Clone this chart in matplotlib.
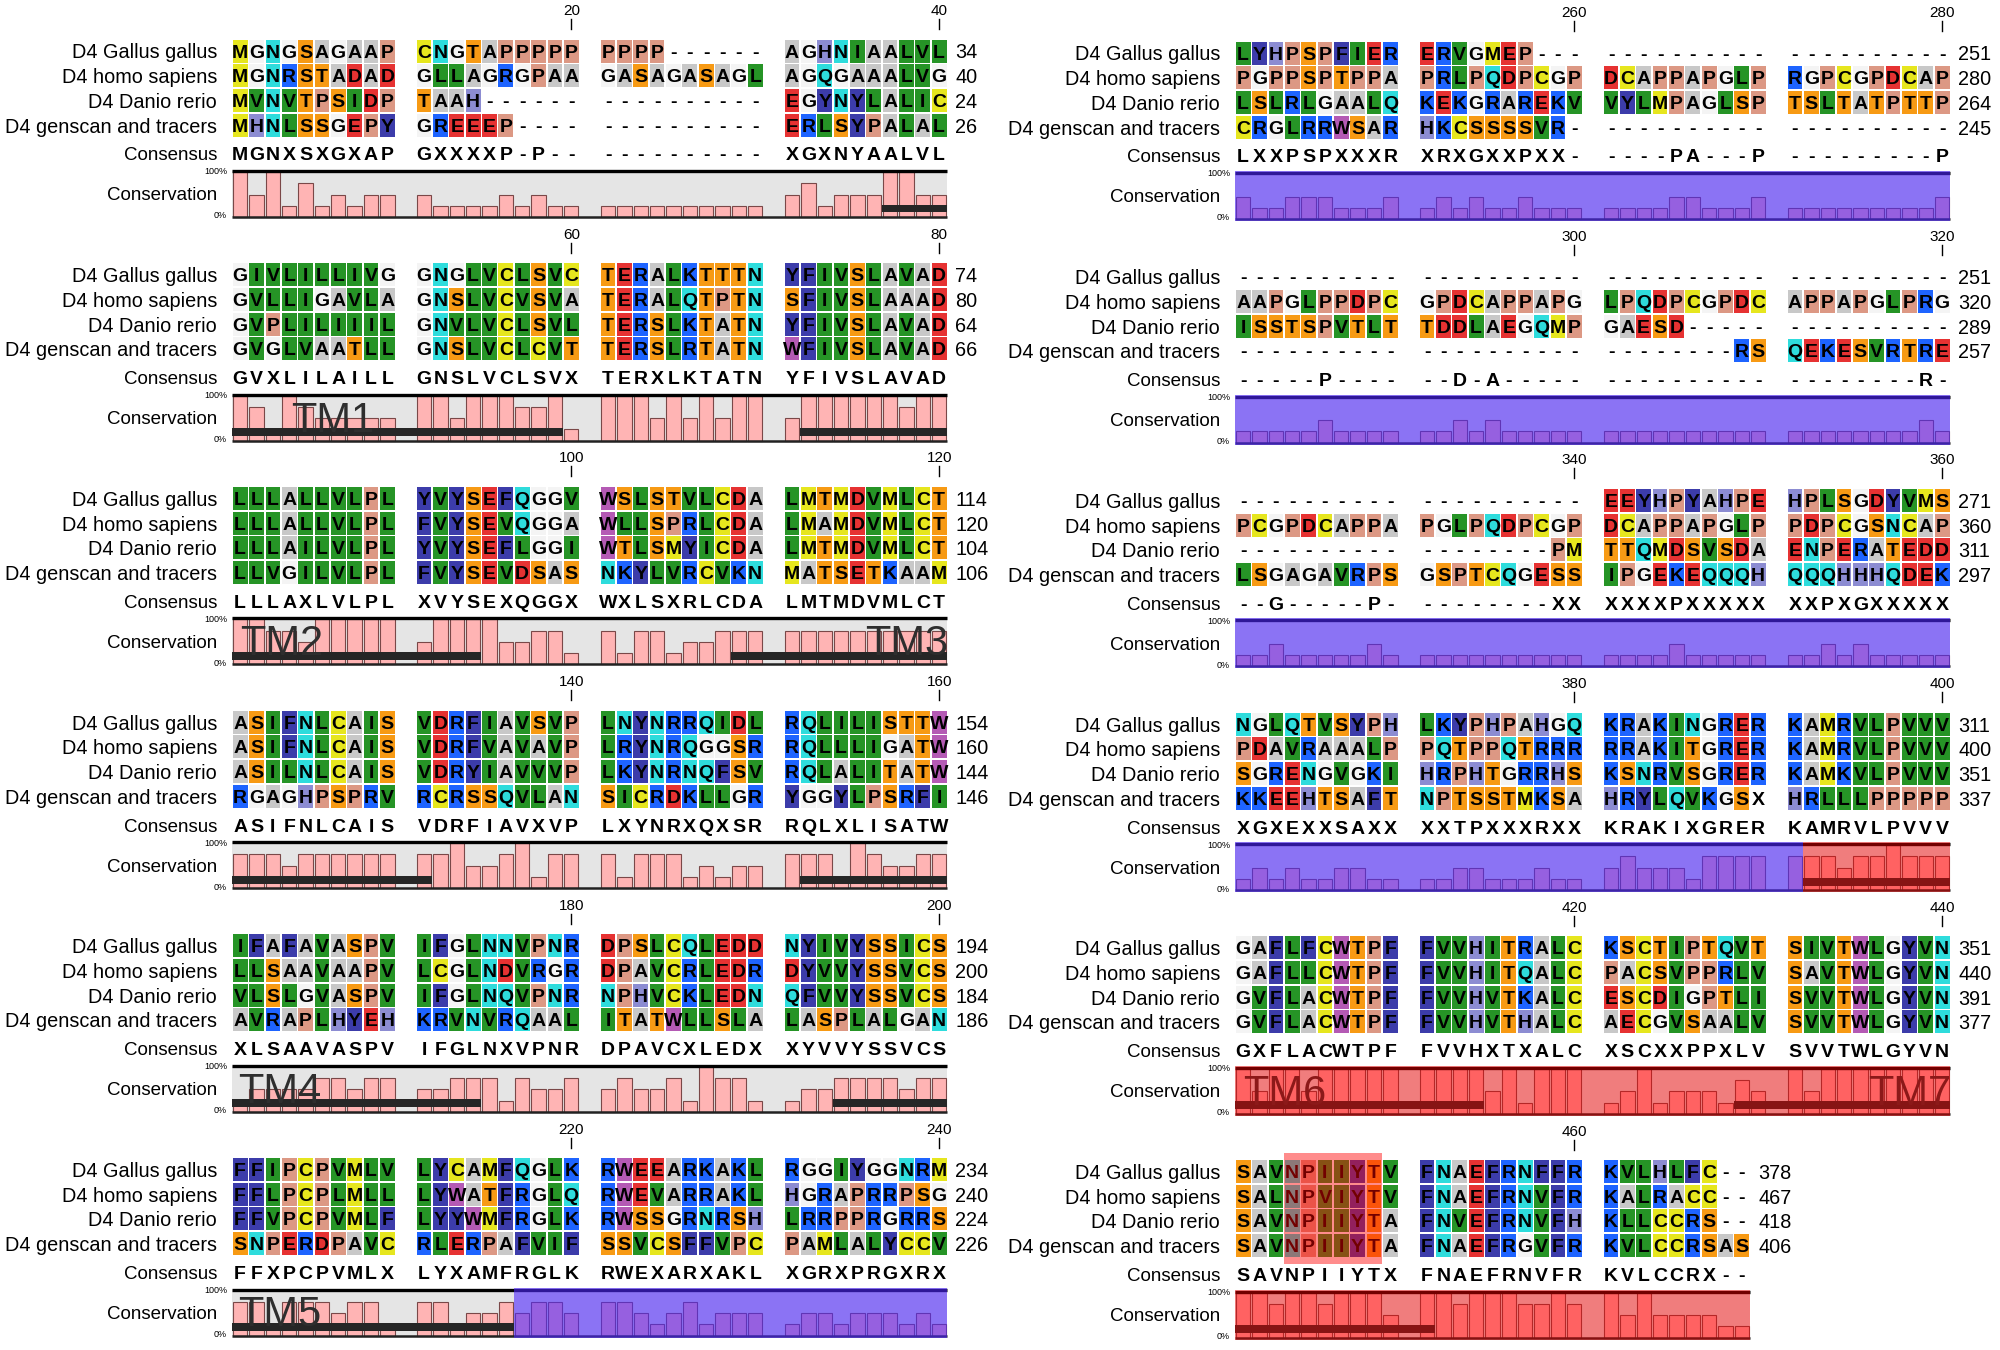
import matplotlib
matplotlib.use('Agg')
import matplotlib.pyplot as plt
import matplotlib.patches as patches
from matplotlib import font_manager

# sequence names, top to bottom
names = ['D4 Gallus gallus', 'D4 homo sapiens', 'D4 Danio rerio', 'D4 genscan and tracers']

# aligned sequences, in groups of 10 columns ('-' = gap)
gallus = ('MGNGSAGAAP CNGTAPPPPP PPPP------ AGHNIAALVL '
          'GIVLILLIVG GNGLVCLSVC TERALKTTTN YFIVSLAVAD '
          'LLLALLVLPL YVYSEFQGGV WSLSTVLCDA LMTMDVMLCT '
          'ASIFNLCAIS VDRFIAVSVP LNYNRRQIDL RQLILISTTW '
          'IFAFAVASPV IFGLNNVPNR DPSLCQLEDD NYIVYSSICS '
          'FFIPCPVMLV LYCAMFQGLK RWEEARKAKL RGGIYGGNRM '
          'LYHPSPFIER ERVGMEP--- ---------- ---------- '
          '---------- ---------- ---------- ---------- '
          '---------- ---------- EEYHPYAHPE HPLSGDYVMS '
          'NGLQTVSYPH LKYPHPAHGQ KRAKINGRER KAMRVLPVVV '
          'GAFLFCWTPF FVVHITRALC KSCTIPTQVT SIVTWLGYVN '
          'SAVNPIIYTV FNAEFRNFFR KVLHLFC--')
homo = ('MGNRSTADAD GLLAGRGPAA GASAGASAGL AGQGAAALVG '
        'GVLLIGAVLA GNSLVCVSVA TERALQTPTN SFIVSLAAAD '
        'LLLALLVLPL FVYSEVQGGA WLLSPRLCDA LMAMDVMLCT '
        'ASIFNLCAIS VDRFVAVAVP LRYNRQGGSR RQLLLIGATW '
        'LLSAAVAAPV LCGLNDVRGR DPAVCRLEDR DYVVYSSVCS '
        'FFLPCPLMLL LYWATFRGLQ RWEVARRAKL HGRAPRRPSG '
        'PGPPSPTPPA PRLPQDPCGP DCAPPAPGLP RGPCGPDCAP '
        'AAPGLPPDPC GPDCAPPAPG LPQDPCGPDC APPAPGLPRG '
        'PCGPDCAPPA PGLPQDPCGP DCAPPAPGLP PDPCGSNCAP '
        'PDAVRAAALP PQTPPQTRRR RRAKITGRER KAMRVLPVVV '
        'GAFLLCWTPF FVVHITQALC PACSVPPRLV SAVTWLGYVN '
        'SALNPVIYTV FNAEFRNVFR KALRACC--')
danio = ('MVNVTPSIDP TAAH------ ---------- EGYNYLALIC '
         'GVPLILIIIL GNVLVCLSVL TERSLKTATN YFIVSLAVAD '
         'LLLAILVLPL YVYSEFLGGI WTLSMYICDA LMTMDVMLCT '
         'ASILNLCAIS VDRYIAVVVP LKYNRNQFSV RQLALITATW '
         'VLSLGVASPV IFGLNQVPNR NPHVCKLEDN QFVVYSSVCS '
         'FFVPCPVMLF LYYWMFRGLK RWSSGRNRSH LRRPPRGRRS '
         'LSLRLGAALQ KEKGRAREKV VYLMPAGLSP TSLTATPTTP '
         'ISSTSPVTLT TDDLAEGQMP GAESD----- ---------- '
         '---------- --------PM TTQMDSVSDA ENPERATEDD '
         'SGRENGVGKI HRPHTGRRHS KSNRVSGRER KAMKVLPVVV '
         'GVFLACWTPF FVVHVTKALC ESCDIGPTLI SVVTWLGYVN '
         'SAVNPIIYTA FNVEFRNVFH KLLCCRS--')
genscan = ('MHNLSSGEPY GREEEP---- ---------- ERLSYPALAL '
           'GVGLVAATLL GNSLVCLCVT TERSLRTATN WFIVSLAVAD '
           'LLVGILVLPL FVYSEVDSAS NKYLVRCVKN MATSETKAAM '
           'RGAGHPSPRV RCRSSQVLAN SICRDKLLGR YGGYLPSRFI '
           'AVRAPLHYEH KRVNVRQAAL ITATWLLSLA LASPLALGAN '
           'SNPERDPAVC RLERPAFVIF SSVCSFFVPC PAMLALYCCV '
           'CRGLRRWSAR HKCSSSSVR- ---------- ---------- '
           '---------- ---------- --------RS QEKESVRTRE '
           'LSGAGAVRPS GSPTCQGESS IPGEKEQQQH QQQHHHQDEK '
           'KKEEHTSAFT NPTSSTMKSA HRYLQVKGSX HRLLLPPPPP '
           'GVFLACWTPF FVVHVTHALC AECGVSAALV SVVTWLGYVN '
           'SAVNPIIYTA FNAEFRGVFR KVLCCRSAS')
consensus = ('MGNXSXGXAP GXXXXP-P-- ---------- XGXNYAALVL '
             'GVXLILAILL GNSLVCLSVX TERXLKTATN YFIVSLAVAD '
             'LLLAXLVLPL XVYSEXQGGX WXLSXRLCDA LMTMDVMLCT '
             'ASIFNLCAIS VDRFIAVXVP LXYNRXQXSR RQLXLISATW '
             'XLSAAVASPV IFGLNXVPNR DPAVCXLEDX XYVVYSSVCS '
             'FFXPCPVMLX LYXAMFRGLK RWEXARXAKL XGRXPRGXRX '
             'LXXPSPXXXR XRXGXXPXX- ----PA---P ---------P '
             '-----P---- --D-A----- ---------- --------R- '
             '--G-----P- --------XX XXXXPXXXXX XXPXGXXXXX '
             'XGXEXXSAXX XXTPXXXRXX KRAKIXGRER KAMRVLPVVV '
             'GXFLACWTPF FVVHXTXALC XSCXXPPXLV SVVTWLGYVN '
             'SAVNPIIYTX FNAEFRNVFR KVLCCRX--')
# conservation bar heights, in quarters (4 = 100%)
conservation = ('4241312122 2111121211 1111111111 2312224422 '
                '4314322222 4424443341 4442424244 2444444344 '
                '4433244444 2444422331 3133122333 3333333333 '
                '3332333333 3342234133 3133312122 3331432233 '
                '1222233233 2233313223 2322314331 1223333233 '
                '3313332331 3312232332 3321231222 1221222121 '
                '2112221112 1212112111 1111221112 1111111112 '
                '1111121111 1121211111 1111111111 1111111121 '
                '1121111121 1111111111 1111211111 1121211111 '
                '1212112211 1122111211 2322213333 3332334333 '
                '4244244444 4444241444 1241222132 4244444444 '
                '4434434442 4434443343 424222211')
# residue count printed at the end of each block row
end_counts = [[34, 40, 24, 26], [74, 80, 64, 66], [114, 120, 104, 106],
              [154, 160, 144, 146], [194, 200, 184, 186], [234, 240, 224, 226],
              [251, 280, 264, 245], [251, 320, 289, 257], [271, 360, 311, 297],
              [311, 400, 351, 337], [351, 440, 391, 377], [378, 467, 418, 406]]

# transmembrane annotations (alignment columns, 1-based)
tm_names = ['TM1', 'TM2', 'TM3', 'TM4', 'TM5', 'TM6', 'TM7']
tm_start = [37, 72, 109, 152, 194, 392, 429]
tm_end = [59, 94, 131, 174, 216, 414, 451]
tm_label_block = [1, 2, 2, 4, 5, 10, 10]
tm_label_pos = [3.6, 0.5, 43.8, 0.4, 0.4, 0.5, 43.8]
tm_label_ha = ['left', 'left', 'right', 'left', 'left', 'left', 'right']

# shaded regions over the conservation track
shade_start = [217, 392]
shade_end = [391, 469]
shade_color = ['#5028ff', '#ff0000']
shade_alpha = [0.6, 0.45]
# highlighted motif over the sequences
motif_start, motif_end = 444, 449

# Rasmol-like amino acid colours
aa_colors = {}
for letters, col in [('DE', '#e63232'), ('CM', '#e6e61e'), ('KR', '#1e64ff'),
                     ('ST', '#f79a14'), ('FY', '#3c3caa'), ('NQ', '#2edcdc'),
                     ('G', '#f4f4f4'), ('LVI', '#269426'), ('A', '#c8c8c8'),
                     ('W', '#b45ab4'), ('H', '#8c8cd2'), ('P', '#dc9884')]:
    for ch in letters:
        aa_colors[ch] = col


def pick_font(families):
    for fam in families:
        try:
            font_manager.findfont(font_manager.FontProperties(family=fam), fallback_to_default=False)
            return fam
        except ValueError:
            pass
    return None


SANS = pick_font(['Liberation Sans', 'Arial']) or 'DejaVu Sans'
NARROW = pick_font(['Liberation Sans Narrow', 'Arial Narrow'])
if NARROW is None:
    NARROW = SANS
    res_size, tm_size, tick_size = 14, 30, 11
else:
    res_size, tm_size, tick_size = 15.5, 34, 12

seqs = [s.replace(' ', '') for s in (gallus, homo, danio, genscan)]
cons = consensus.replace(' ', '')
levels = [int(c) for c in conservation.replace(' ', '')]
n_cols = len(cons)

# layout in pixels
BLOCK_X0 = [232, 1235]
UNIT = 16.35
BLOCK_DY = 223.7
ROW_Y = [51, 75.7, 100.4, 125.1]
CONS_Y = 154
TRACK_TOP, TRACK_BOT = 171, 217
CELL_H = 23.0
TXT_DY = 2.0   # pushes va='center' text down onto the visual centre


def col_left(c):
    b, k = divmod(c, 40)
    return BLOCK_X0[b // 6] + (k + 1.25 * (k // 10)) * UNIT


def block_top(b):
    return (b % 6) * BLOCK_DY + (2 if b >= 6 else 0)


fig = plt.figure(figsize=(20, 13.5), dpi=100)
ax = fig.add_axes([0, 0, 1, 1])
ax.set_xlim(0, 2000)
ax.set_ylim(1350, 0)
ax.axis('off')

n_blocks = (n_cols + 39) // 40
for b in range(n_blocks):
    y0 = block_top(b)
    x0 = BLOCK_X0[b // 6]
    cols = range(40 * b, min(40 * b + 40, n_cols))
    bx0 = col_left(cols[0])
    bx1 = col_left(cols[-1]) + UNIT

    # ruler ticks every 20 columns
    for c in cols:
        if (c + 1) % 20 == 0:
            xc = col_left(c) + UNIT / 2
            ax.text(xc, y0 + 11, str(c + 1), ha='center', va='center', fontsize=tick_size, family=NARROW)
            ax.plot([xc, xc], [y0 + 19, y0 + 29], color='black', lw=1)

    # sequence rows
    for i, seq in enumerate(seqs):
        yc = y0 + ROW_Y[i]
        ax.text(x0 - 15, yc + TXT_DY, names[i], ha='right', va='center', fontsize=14.3, family=SANS)
        for c in cols:
            ch = seq[c]
            xl = col_left(c)
            if ch in aa_colors:
                ax.add_patch(patches.Rectangle((xl + 0.8, yc - CELL_H / 2), UNIT - 1.6, CELL_H,
                                               facecolor=aa_colors[ch], edgecolor='none', zorder=1))
            ax.text(xl + UNIT / 2, yc + TXT_DY, ch, ha='center', va='center', fontsize=res_size,
                    fontweight='bold', family=NARROW, zorder=2)
        ax.text(bx1 + 8, yc + TXT_DY, str(end_counts[b][i]), ha='left', va='center', fontsize=14.3,
                family=SANS)

    # motif highlight
    if cols[0] <= motif_start - 1 <= cols[-1]:
        mx0 = col_left(motif_start - 1)
        mx1 = col_left(motif_end - 1) + UNIT
        my0 = y0 + ROW_Y[0] - CELL_H / 2 - 7
        my1 = y0 + ROW_Y[-1] + CELL_H / 2 + 7
        ax.add_patch(patches.Rectangle((mx0, my0), mx1 - mx0, my1 - my0, facecolor='#ff0000',
                                       alpha=0.45, edgecolor='none', zorder=6))

    # consensus
    yc = y0 + CONS_Y
    ax.text(x0 - 15, yc + TXT_DY, 'Consensus', ha='right', va='center', fontsize=13.5, family=SANS)
    for c in cols:
        ax.text(col_left(c) + UNIT / 2, yc + TXT_DY, cons[c], ha='center', va='center',
                fontsize=res_size, fontweight='bold', family=NARROW)

    # conservation track
    top, bot = y0 + TRACK_TOP, y0 + TRACK_BOT
    th = bot - top
    ax.text(x0 - 15, (top + bot) / 2 + TXT_DY, 'Conservation', ha='right', va='center', fontsize=13.5,
            family=SANS)
    ax.text(x0 - 5, top + 1, '100%', ha='right', va='center', fontsize=6.5, family=NARROW)
    ax.text(x0 - 5, bot - 1, '0%', ha='right', va='center', fontsize=6.5, family=NARROW)
    ax.add_patch(patches.Rectangle((bx0, top), bx1 - bx0, th, facecolor='#e5e5e5', edgecolor='none', zorder=0))
    for c in cols:
        h = levels[c] / 4 * (th - 1)
        ax.add_patch(patches.Rectangle((col_left(c) + 1, bot - h), UNIT - 2, h, facecolor='#ffb4b4',
                                       edgecolor='#7a4848', lw=0.8, zorder=2))
    ax.plot([bx0, bx1], [top, top], color='black', lw=2.4, zorder=3, solid_capstyle='butt')
    ax.plot([bx0, bx1], [bot, bot], color='#222222', lw=1.8, zorder=3, solid_capstyle='butt')

    # transmembrane segments
    for t in range(len(tm_names)):
        c0 = max(tm_start[t] - 1, cols[0])
        c1 = min(tm_end[t] - 1, cols[-1])
        if c0 <= c1:
            tx0 = col_left(c0)
            tx1 = col_left(c1) + UNIT
            ax.add_patch(patches.Rectangle((tx0, bot - 0.27 * th), tx1 - tx0, 0.17 * th,
                                           facecolor='#262626', edgecolor='none', zorder=3))
        if tm_label_block[t] == b:
            ax.text(x0 + tm_label_pos[t] * UNIT, (top + bot) / 2 + 3, tm_names[t], ha=tm_label_ha[t],
                    va='center', fontsize=tm_size, family=NARROW, color='#2e2e2e', zorder=4)

    # shaded regions
    for s in range(len(shade_start)):
        c0 = max(shade_start[s] - 1, cols[0])
        c1 = min(shade_end[s] - 1, cols[-1])
        if c0 <= c1:
            sx0 = col_left(c0)
            sx1 = col_left(c1) + UNIT
            ax.add_patch(patches.Rectangle((sx0, top - 2), sx1 - sx0, th + 4, facecolor=shade_color[s],
                                           alpha=shade_alpha[s], edgecolor='none', zorder=5))

fig.savefig('out.png', dpi=100, facecolor='white')
